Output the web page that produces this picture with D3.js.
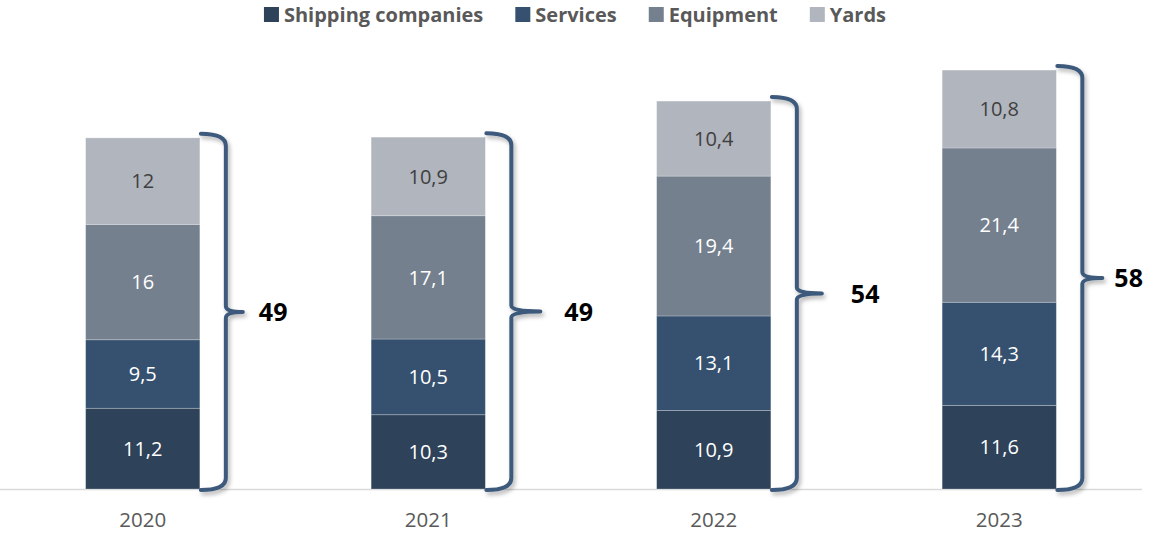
<!DOCTYPE html>
<html>
<head>
<meta charset="utf-8">
<script src="https://cdn.jsdelivr.net/npm/d3@7"></script>
<style>
  body { margin: 0; background: #fff; }
  svg { display: block; font-family: "Open Sans", sans-serif; }
</style>
</head>
<body>
<div id="chart"></div>
<script>
// ===== data =====
const years = ['2020', '2021', '2022', '2023'];
const seriesNames = ['Shipping companies', 'Services', 'Equipment', 'Yards'];
const shipping = [11.2, 10.3, 10.9, 11.6];
const services = [9.5, 10.5, 13.1, 14.3];
const equipment = [16, 17.1, 19.4, 21.4];
const yards = [12, 10.9, 10.4, 10.8];
const totals = [49, 49, 54, 58];

// brace tweaks per year (the original shapes were placed by hand)
const tipLength = [17, 29, 25, 20];
const totalGap = [33, 53, 54, 32];

const colors = ['#2e4259', '#35516f', '#75808f', '#b1b5bd'];
const labelColors = ['#ffffff', '#ffffff', '#ffffff', '#404040'];

const width = 1158, height = 533;
const baseY = 489;

const rows = years.map((yr, i) => ({
  year: yr, 'Shipping companies': shipping[i], 'Services': services[i],
  'Equipment': equipment[i], 'Yards': yards[i], total: totals[i]
}));

const svg = d3.select('#chart').append('svg')
  .attr('width', width).attr('height', height);

// brace shadow
const defs = svg.append('defs');
const f = defs.append('filter').attr('id', 'shadow')
  .attr('x', '-50%').attr('y', '-10%').attr('width', '200%').attr('height', '120%');
f.append('feDropShadow').attr('dx', 2).attr('dy', 3).attr('stdDeviation', 2)
  .attr('flood-color', '#000').attr('flood-opacity', 0.3);

// ===== scales =====
const x = d3.scaleBand().domain(years).range([0, 1142])
  .paddingInner(0.6).paddingOuter(0.3);
const y = d3.scaleLinear().domain([0, 60]).range([baseY, baseY - 60 * 7.21]);

const stack = d3.stack().keys(seriesNames)(rows);

// axis line
svg.append('line')
  .attr('x1', 0).attr('x2', 1142)
  .attr('y1', baseY + 0.5).attr('y2', baseY + 0.5)
  .attr('stroke', '#d9d9d9').attr('stroke-width', 1.5);

// ===== bars =====
const layer = svg.selectAll('g.layer').data(stack).enter()
  .append('g').attr('class', 'layer');

layer.selectAll('rect').data(d => d).enter().append('rect')
  .attr('x', d => x(d.data.year))
  .attr('y', d => y(d[1]))
  .attr('width', x.bandwidth())
  .attr('height', d => y(d[0]) - y(d[1]))
  .attr('fill', function() { return colors[d3.select(this.parentNode).datum().index]; })
  .attr('stroke', 'rgba(255,255,255,0.3)')
  .attr('stroke-width', 0.8);

layer.selectAll('text').data(d => d).enter().append('text')
  .attr('x', d => x(d.data.year) + x.bandwidth() / 2)
  .attr('y', d => (y(d[0]) + y(d[1])) / 2)
  .attr('dy', '0.36em')
  .attr('text-anchor', 'middle')
  .attr('font-size', '20px')
  .attr('fill', function() { return labelColors[d3.select(this.parentNode).datum().index]; })
  .text(d => String(+(d[1] - d[0]).toFixed(1)).replace('.', ','));

// ===== braces and totals =====
const topLayer = stack[stack.length - 1];
rows.forEach((r, i) => {
  const x0 = x(r.year) + x.bandwidth() + 1;
  const xv = x0 + 25;
  const xt = xv + tipLength[i];
  const yT = y(topLayer[i][1]) - 4;
  const yB = baseY + 1;
  const yM = (yT + yB) / 2;
  const rr = 12, r2 = 6;
  const p = d3.path();
  p.moveTo(x0, yT);
  p.quadraticCurveTo(xv, yT, xv, yT + rr);
  p.lineTo(xv, yM - r2);
  p.quadraticCurveTo(xv, yM, xt, yM);
  p.moveTo(xt, yM);
  p.quadraticCurveTo(xv, yM, xv, yM + r2);
  p.lineTo(xv, yB - rr);
  p.quadraticCurveTo(xv, yB, x0, yB);
  svg.append('path')
    .attr('d', p.toString())
    .attr('fill', 'none')
    .attr('stroke', '#3c5a7d')
    .attr('stroke-width', 4)
    .attr('stroke-linecap', 'round')
    .attr('filter', 'url(#shadow)');

  svg.append('text')
    .attr('x', xv + totalGap[i]).attr('y', yM)
    .attr('dy', '0.36em')
    .attr('font-size', '25px').attr('font-weight', 'bold')
    .attr('fill', '#000')
    .text(r.total);
});

// ===== x labels =====
svg.selectAll('text.year').data(years).enter().append('text')
  .attr('class', 'year')
  .attr('x', d => x(d) + x.bandwidth() / 2)
  .attr('y', 527)
  .attr('text-anchor', 'middle')
  .attr('font-size', '20.5px')
  .attr('fill', '#595959')
  .text(d => d);

// ===== legend =====
const legend = svg.append('g');
let lx = 0;
seriesNames.forEach((name, i) => {
  const g = legend.append('g').attr('transform', `translate(${lx},0)`);
  g.append('rect').attr('x', 0).attr('y', 7).attr('width', 15).attr('height', 15)
    .attr('fill', colors[i]);
  const t = g.append('text').attr('x', 20).attr('y', 14.5).attr('dy', '0.36em')
    .attr('font-size', '20px').attr('font-weight', 'bold')
    .attr('fill', '#595959').text(name);
  lx += 20 + t.node().getComputedTextLength() + 32;
});
lx -= 32;
legend.attr('transform', `translate(${575 - lx / 2},0)`);
</script>
</body>
</html>
